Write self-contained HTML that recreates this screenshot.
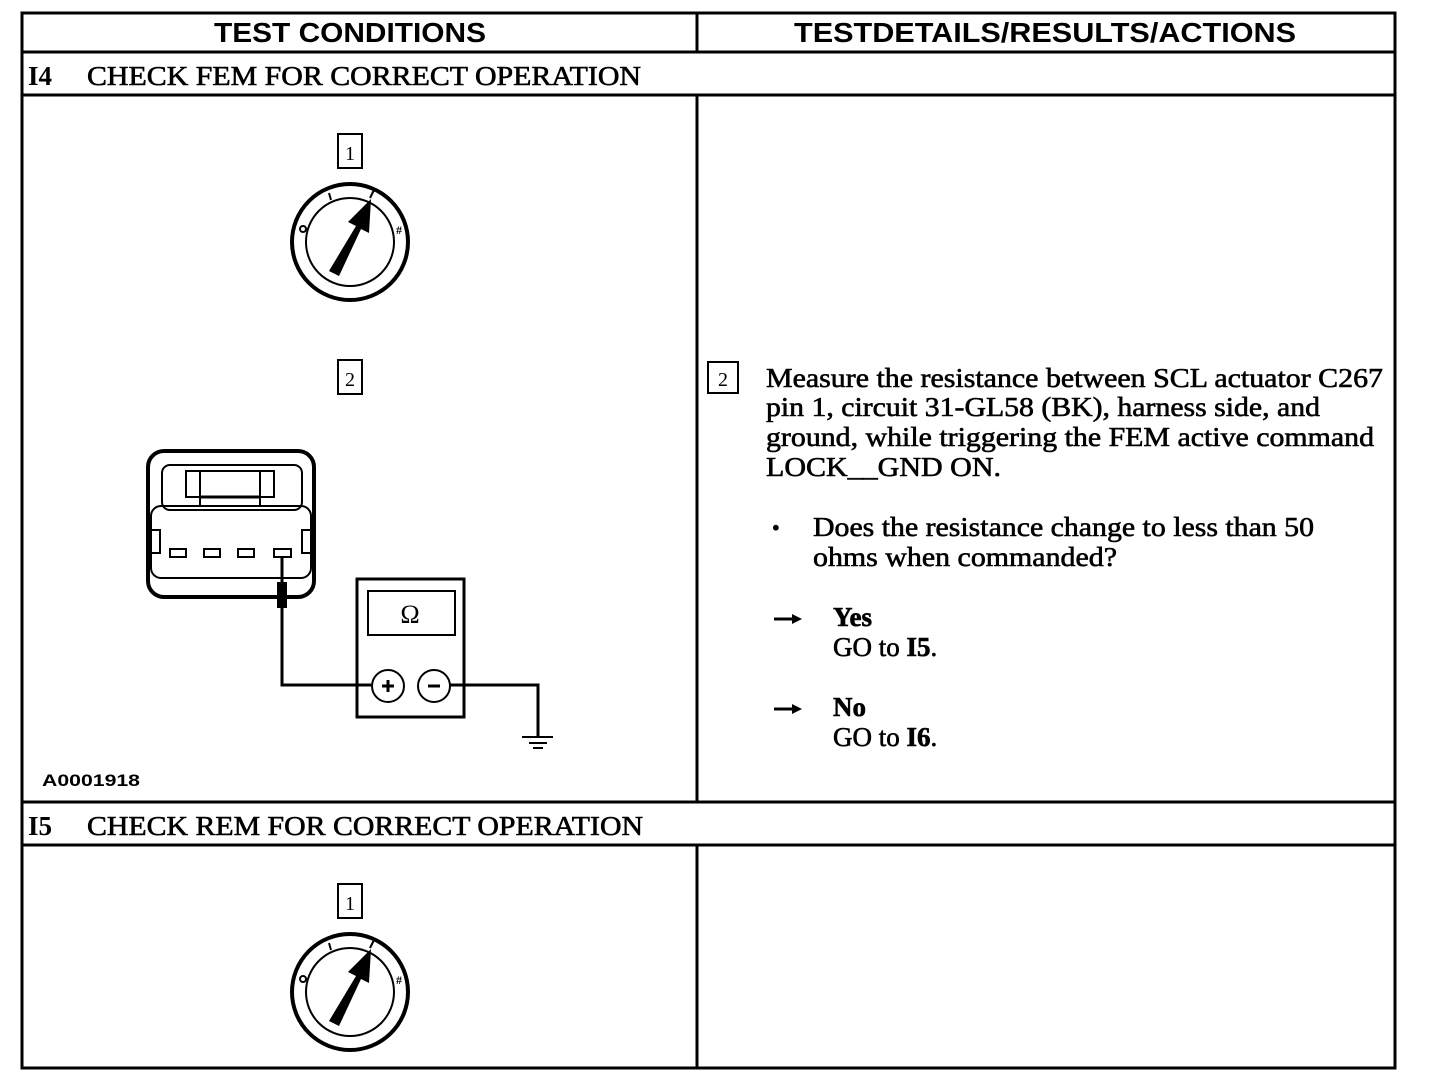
<!DOCTYPE html>
<html><head><meta charset="utf-8"><style>
html,body{margin:0;padding:0;background:#fff;}
svg{display:block;}
text{font-family:"Liberation Serif",serif;fill:#000;}
.s{font-family:"Liberation Sans",sans-serif;font-weight:bold;}
.b{stroke:#000;stroke-width:0.6;}
</style></head><body>
<svg width="1456" height="1074" viewBox="0 0 1456 1074" xmlns="http://www.w3.org/2000/svg">
<g stroke="#000" fill="none" stroke-width="3">
<rect x="22" y="13" width="1373" height="1055"/>
<line x1="22" y1="52" x2="1395" y2="52"/>
<line x1="22" y1="95" x2="1395" y2="95"/>
<line x1="22" y1="802" x2="1395" y2="802"/>
<line x1="22" y1="845" x2="1395" y2="845"/>
<line x1="697" y1="13" x2="697" y2="52"/>
<line x1="697" y1="95" x2="697" y2="802"/>
<line x1="697" y1="845" x2="697" y2="1068"/>
</g>
<text class="s" x="350" y="42" font-size="28" text-anchor="middle" textLength="272" lengthAdjust="spacingAndGlyphs">TEST CONDITIONS</text>
<text class="s" x="1045" y="42" font-size="28" text-anchor="middle" textLength="502" lengthAdjust="spacingAndGlyphs">TESTDETAILS/RESULTS/ACTIONS</text>
<text x="28" y="85" font-size="27" font-weight="bold">I4</text>
<text class="b" x="87" y="85" font-size="27" textLength="554" lengthAdjust="spacingAndGlyphs">CHECK FEM FOR CORRECT OPERATION</text>
<text x="28" y="835" font-size="27" font-weight="bold">I5</text>
<text class="b" x="87" y="835" font-size="27" textLength="556" lengthAdjust="spacingAndGlyphs">CHECK REM FOR CORRECT OPERATION</text>

<g id="sw">
<rect x="338" y="134" width="24" height="34" stroke="#000" stroke-width="2" fill="none"/>
<text x="350" y="160" font-size="20" text-anchor="middle">1</text>
<circle cx="350" cy="242" r="58" stroke="#000" stroke-width="4" fill="none"/>
<circle cx="350" cy="242" r="44" stroke="#000" stroke-width="2" fill="none"/>
<line x1="329" y1="193" x2="331" y2="200" stroke="#000" stroke-width="2"/>
<line x1="370" y1="198" x2="374" y2="190" stroke="#000" stroke-width="2"/>
<circle cx="303" cy="229" r="3" stroke="#000" stroke-width="2" fill="none"/>
<text x="396" y="234" font-size="12" font-weight="bold">#</text>
<polygon points="329,271 339,276 361,229 369,233 371,199 348,222 356,226" fill="#000"/>
</g>
<use href="#sw" transform="translate(0,750)"/>

<rect x="338" y="360" width="24" height="34" stroke="#000" stroke-width="2" fill="none"/>
<text x="350" y="386" font-size="20" text-anchor="middle">2</text>

<g stroke="#000" fill="none">
<rect x="148" y="451" width="166" height="146" rx="16" stroke-width="4"/>
<rect x="162" y="465" width="140" height="45" rx="8" stroke-width="2"/>
<rect x="186" y="471" width="88" height="26" stroke-width="2"/>
<line x1="200" y1="471" x2="200" y2="505" stroke-width="2"/>
<line x1="260" y1="471" x2="260" y2="505" stroke-width="2"/>
<line x1="200" y1="497" x2="260" y2="497" stroke-width="3"/>
<rect x="151" y="506" width="160" height="72" rx="10" stroke-width="2"/>
<rect x="150" y="530" width="10" height="23" stroke-width="2"/>
<rect x="302" y="530" width="10" height="23" stroke-width="2"/>
<rect x="170" y="549" width="16" height="8" stroke-width="2"/>
<rect x="204" y="549" width="16" height="8" stroke-width="2"/>
<rect x="238" y="549" width="16" height="8" stroke-width="2"/>
<rect x="274" y="549" width="17" height="8" stroke-width="2"/>
<polyline points="282,557 282,685 371,685" stroke-width="3"/>
<rect x="277" y="582" width="10" height="26" fill="#000" stroke="none"/>
<rect x="357" y="579" width="107" height="138" stroke-width="3"/>
<rect x="368" y="591" width="87" height="44" stroke-width="2"/>
<circle cx="388" cy="686" r="16" stroke-width="2"/>
<circle cx="434" cy="686" r="16" stroke-width="2"/>
<line x1="382" y1="686" x2="394" y2="686" stroke-width="3"/>
<line x1="388" y1="680" x2="388" y2="692" stroke-width="3"/>
<line x1="428" y1="686" x2="440" y2="686" stroke-width="3"/>
<polyline points="450,685 538,685 538,736" stroke-width="3"/>
<line x1="522" y1="737" x2="553" y2="737" stroke-width="2"/>
<line x1="529" y1="743" x2="547" y2="743" stroke-width="2"/>
<line x1="533" y1="748" x2="543" y2="748" stroke-width="2"/>
</g>
<text x="410" y="623" font-size="26" text-anchor="middle">Ω</text>
<text class="s" x="42" y="786" font-size="17" font-weight="normal" textLength="98" lengthAdjust="spacingAndGlyphs">A0001918</text>

<rect x="708" y="362" width="30" height="31" stroke="#000" stroke-width="2" fill="none"/>
<text x="723" y="386" font-size="20" text-anchor="middle">2</text>
<g font-size="27" class="b">
<text x="766" y="387" textLength="617" lengthAdjust="spacingAndGlyphs">Measure the resistance between SCL actuator C267</text>
<text x="766" y="416" textLength="554" lengthAdjust="spacingAndGlyphs">pin 1, circuit 31-GL58 (BK), harness side, and</text>
<text x="766" y="446" textLength="608" lengthAdjust="spacingAndGlyphs">ground, while triggering the FEM active command</text>
<text x="766" y="476" textLength="235" lengthAdjust="spacingAndGlyphs">LOCK__GND ON.</text>
<text x="772" y="535" font-size="22">•</text>
<text x="813" y="536" textLength="501" lengthAdjust="spacingAndGlyphs">Does the resistance change to less than 50</text>
<text x="813" y="566" textLength="304" lengthAdjust="spacingAndGlyphs">ohms when commanded?</text>
<text x="833" y="626" font-weight="bold">Yes</text>
<text x="833" y="656">GO to <tspan font-weight="bold">I5</tspan>.</text>
<text x="833" y="716" font-weight="bold">No</text>
<text x="833" y="746">GO to <tspan font-weight="bold">I6</tspan>.</text>
</g>
<g stroke="#000" stroke-width="3"><line x1="774" y1="619" x2="795" y2="619"/><line x1="774" y1="709" x2="795" y2="709"/></g>
<polygon points="792,614 802,619 792,624" fill="#000"/>
<polygon points="792,704 802,709 792,714" fill="#000"/>
</svg>
</body></html>
